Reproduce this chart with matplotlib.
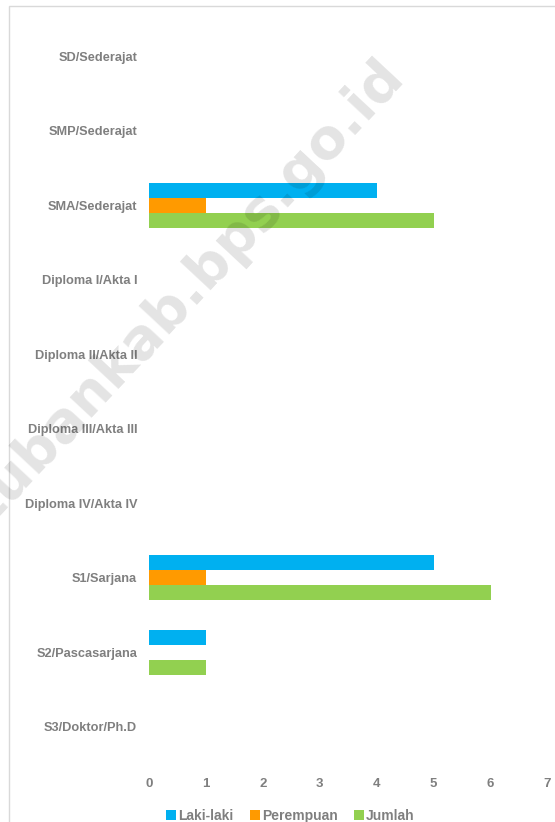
import numpy as np
import matplotlib.pyplot as plt
from matplotlib.patches import Rectangle

# Data
categories = ["SD/Sederajat", "SMP/Sederajat", "SMA/Sederajat", "Diploma I/Akta I",
              "Diploma II/Akta II", "Diploma III/Akta III", "Diploma IV/Akta IV",
              "S1/Sarjana", "S2/Pascasarjana", "S3/Doktor/Ph.D"]
laki = [0, 0, 4, 0, 0, 0, 0, 5, 1, 0]
perempuan = [0, 0, 1, 0, 0, 0, 0, 1, 0, 0]
jumlah = [0, 0, 5, 0, 0, 0, 0, 6, 1, 0]
series_names = ["Laki-laki", "Perempuan", "Jumlah"]
colors = ["#00B0F0", "#FF9A00", "#92D050"]

txt = "#7F7F7F"
plt.rcParams['font.family'] = ['Liberation Sans', 'DejaVu Sans']

fig = plt.figure(figsize=(5.55, 8.22), dpi=100)
ax = fig.add_axes([0.2685, 0.0706, 0.718, 0.9064])

y = np.arange(len(categories))
h = 0.2
for k, (vals, name, c) in enumerate(zip([laki, perempuan, jumlah], series_names, colors)):
    ax.barh(y + (k - 1) * h, vals, height=h, color=c, label=name, zorder=2)

ax.set_ylim(len(categories) - 0.5, -0.5)
ax.set_xlim(0, 7)
ax.set_xticks(range(8))
ax.set_yticks(y)
ax.set_yticklabels(categories)
for s in ax.spines.values():
    s.set_visible(False)
ax.tick_params(length=0, colors=txt)
ax.tick_params(axis='y', pad=8.5, labelsize=9.2)
ax.tick_params(axis='x', pad=10, labelsize=9.5)
for lab in ax.get_xticklabels() + ax.get_yticklabels():
    lab.set_fontweight('bold')

leg = ax.legend(loc='upper center', bbox_to_anchor=(0.355, -0.043), ncol=3, frameon=False,
                handlelength=0.7, handleheight=0.7, handletextpad=0.15, columnspacing=1.2,
                prop={'weight': 'bold', 'size': 10})
for t in leg.get_texts():
    t.set_color(txt)

# frame around the chart
fig.patches.append(Rectangle((9 / 555, -0.01), 1.0, 1 - 6 / 822 + 0.01, transform=fig.transFigure,
                             fill=False, edgecolor="#D9D9D9", linewidth=1))

# watermark
fig.text(188 / 555, 1 - 292 / 822, "tubankab.bps.go.id", rotation=47, ha='center', va='center',
         rotation_mode='anchor', fontsize=40, fontweight='bold', color='#000000', alpha=0.11,
         family='DejaVu Sans', zorder=10)

fig.savefig("out.png", dpi=100)
